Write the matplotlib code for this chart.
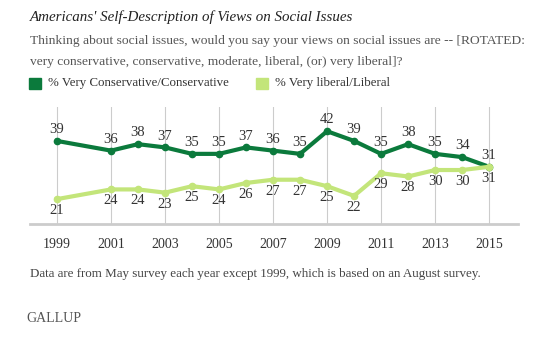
import numpy as np
import matplotlib.pyplot as plt
from matplotlib.patches import Rectangle

# Data (no survey in 2000)
years = [1999, 2001, 2002, 2003, 2004, 2005, 2006, 2007,
         2008, 2009, 2010, 2011, 2012, 2013, 2014, 2015]
conservative = [39, 36, 38, 37, 35, 35, 37, 36, 35, 42, 39, 35, 38, 35, 34, 31]
liberal = [21, 24, 24, 23, 25, 24, 26, 27, 27, 25, 22, 29, 28, 30, 30, 31]
tick_years = [1999, 2001, 2003, 2005, 2007, 2009, 2011, 2013, 2015]

dark = '#0b7a3c'
light = '#c3e57a'
W, H = 534, 350

plt.rcParams['font.family'] = ['Liberation Serif', 'DejaVu Serif']

fig = plt.figure(figsize=(W / 100, H / 100), dpi=100)

def px(x, y):
    return x / W, 1 - y / H

# Axes placed in pixel coordinates
left, right, top, bottom = 30, 518, 107, 224
ax = fig.add_axes([left / W, 1 - bottom / H, (right - left) / W, (bottom - top) / H])

ax.plot(years, conservative, color=dark, lw=3, marker='o', ms=4.5, zorder=3)
ax.plot(years, liberal, color=light, lw=3, marker='o', ms=4.5, zorder=3)

for yr, c, l in zip(years, conservative, liberal):
    ax.annotate(str(c), (yr, c), xytext=(0, 8.2), textcoords='offset points',
                ha='center', va='center', fontsize=10.5, color='#333333')
    ax.annotate(str(l), (yr, l), xytext=(0, -8.2), textcoords='offset points',
                ha='center', va='center', fontsize=10.5, color='#333333')

for p in tick_years:
    ax.axvline(p, color='#cccccc', lw=0.8, zorder=1)

ax.set_xlim(1998.0, 2016.07)
ax.set_ylim(13.3, 49.5)
ax.set_xticks(tick_years)
ax.set_xticklabels([str(t) for t in tick_years], fontsize=10, color='#333333')
ax.tick_params(axis='x', length=0, pad=10)
ax.set_yticks([])
for s in ['top', 'right', 'left']:
    ax.spines[s].set_visible(False)
ax.spines['bottom'].set_color('#cccccc')
ax.spines['bottom'].set_linewidth(2)

# Header texts
fig.text(*px(30, 17), "Americans' Self-Description of Views on Social Issues",
         fontsize=10.8, style='italic', color='#222222', va='center')
fig.text(*px(30, 41), "Thinking about social issues, would you say your views on social issues are -- [ROTATED:",
         fontsize=9.7, color='#555555', va='center')
fig.text(*px(30, 62), "very conservative, conservative, moderate, liberal, (or) very liberal]?",
         fontsize=9.7, color='#555555', va='center')

# Legend
fig.patches.append(Rectangle(px(29, 89), 12 / W, 11 / H, transform=fig.transFigure,
                             color=dark, figure=fig))
fig.text(*px(48, 83), "% Very Conservative/Conservative", fontsize=9.3,
         color='#333333', va='center')
fig.patches.append(Rectangle(px(256, 89), 12 / W, 11 / H, transform=fig.transFigure,
                             color=light, figure=fig))
fig.text(*px(275, 83), "% Very liberal/Liberal", fontsize=9.3,
         color='#333333', va='center')

# Footer
fig.text(*px(30, 274), "Data are from May survey each year except 1999, which is based on an August survey.",
         fontsize=9.4, color='#444444', va='center')
fig.text(*px(26, 318), "GALLUP", fontsize=10, color='#555555', va='center')

fig.savefig('out.png', dpi=100)
